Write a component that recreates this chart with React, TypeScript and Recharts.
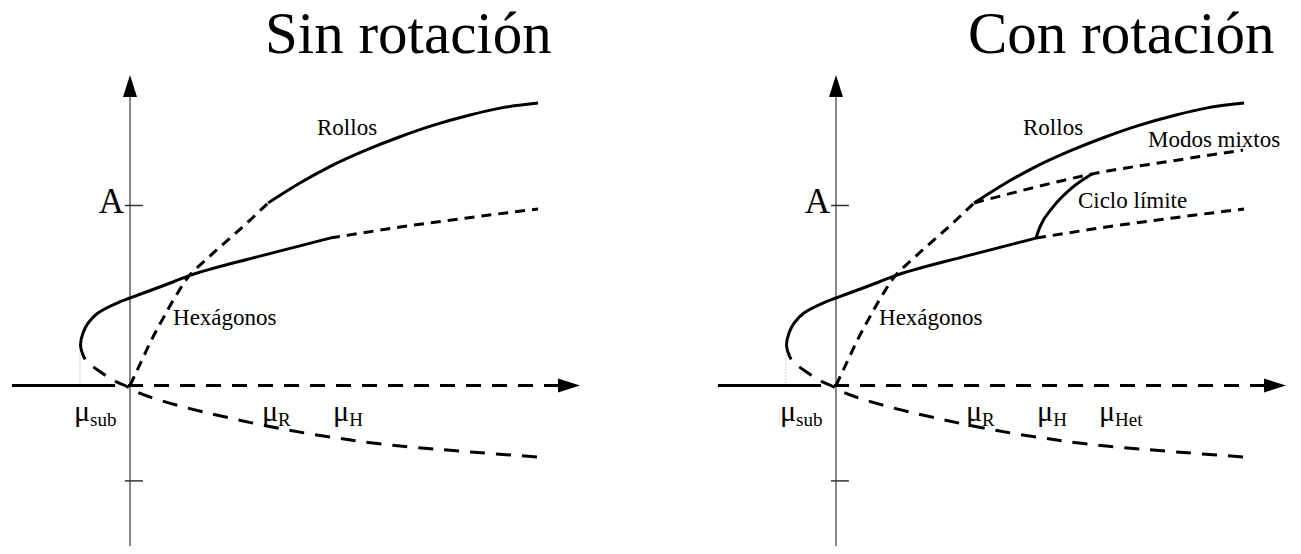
import React from "react";
import { LineChart, Line, XAxis, YAxis, ReferenceLine, ReferenceDot } from "recharts";

// Bifurcation diagrams: amplitude A against control parameter mu,
// without and with rotation. Both panels share one scale (PX pixels per unit).

const SERIF = '"Liberation Serif", "Times New Roman", Times, serif';
const PX = 180;
const ORIGIN_X = 122;
const ORIGIN_Y = 377.5;
const HEIGHT = 538;

type Pt = { mu: number; A: number };
const toPts = (rows: number[][]): Pt[] => rows.map(([mu, A]) => ({ mu, A }));

// conductive state A = 0
const trivialStable = toPts([[-0.656, 0], [-0.083, 0]]);
const trivialUnstable = toPts([[-0.011, 0], [2.378, 0]]);

// hexagons: stable upper part of the fold, unstable beyond mu_H, lower unstable branch
const hexStable = toPts([
  [-0.267, 0.186], [-0.275, 0.225], [-0.261, 0.292], [-0.233, 0.347], [-0.178, 0.403],
  [-0.072, 0.458], [0, 0.486], [0.239, 0.575], [0.322, 0.608], [0.722, 0.719], [1.111, 0.819],
]);
const hexUpperUnstable = toPts([[1.111, 0.819], [1.5, 0.88], [1.872, 0.931], [2.267, 0.981]]);
const hexLower = toPts([
  [2.261, -0.397], [1.889, -0.369], [1.5, -0.336], [1.111, -0.286], [0.761, -0.225],
  [0.556, -0.181], [0.278, -0.114], [0.111, -0.064], [0.039, -0.036], [-0.028, 0],
  [-0.072, 0.019], [-0.172, 0.081], [-0.242, 0.136], [-0.267, 0.186],
]);

// rolls
const rollsUnstable = toPts([
  [0, 0], [0.056, 0.119], [0.122, 0.258], [0.194, 0.392], [0.261, 0.508], [0.333, 0.614],
  [0.444, 0.719], [0.556, 0.819], [0.667, 0.919], [0.767, 1.014],
]);
const rollsStable = toPts([
  [0.767, 1.014], [0.944, 1.125], [1.094, 1.208], [1.317, 1.31], [1.5, 1.382],
  [1.683, 1.445], [1.889, 1.503], [2.056, 1.541], [2.267, 1.569],
]);

// rotating case only
const mixedModes = toPts([[0.767, 1.014], [1.1, 1.1], [1.422, 1.175], [1.85, 1.245], [2.261, 1.308]]);
const limitCycle = toPts([[1.111, 0.819], [1.133, 0.881], [1.206, 0.992], [1.317, 1.103], [1.422, 1.175]]);

const aTicks = [1, -0.53];
const fold = { mu: -0.278, A: 0.225 };
const AXIS_TOP = 1.603;
const ARROW_TIP_A = 1.725;
const ARROW_TIP_MU = 2.5;

const muTicksSin = [
  { mu: -0.311, sub: "sub" },
  { mu: 0.733, sub: "R" },
  { mu: 1.128, sub: "H" },
];
const muTicksCon = [
  { mu: -0.311, sub: "sub" },
  { mu: 0.722, sub: "R" },
  { mu: 1.117, sub: "H" },
  { mu: 1.461, sub: "Het" },
];

const textShape = (text: string, size: number, anchor: "start" | "end" = "start") => (p: any) => (
  <text x={p.cx} y={p.cy} textAnchor={anchor} fill="#000" style={{ fontFamily: SERIF, fontSize: size }}>
    {text}
  </text>
);

const muShape = (sub: string) => (p: any) => (
  <text x={p.cx} y={p.cy} fill="#000" style={{ fontFamily: SERIF }}>
    <tspan style={{ fontSize: 30 }}>μ</tspan>
    <tspan style={{ fontSize: 19 }} dy={5}>
      {sub}
    </tspan>
  </text>
);

const arrowUp = (p: any) => (
  <polygon points={`${p.cx},${p.cy} ${p.cx - 7},${p.cy + 22} ${p.cx + 7},${p.cy + 22}`} fill="#000" />
);
const arrowRight = (p: any) => (
  <polygon points={`${p.cx},${p.cy} ${p.cx - 22},${p.cy - 7} ${p.cx - 22},${p.cy + 7}`} fill="#000" />
);

function curve(key: string, data: Pt[], dash?: string, type: any = "monotoneY") {
  return (
    <Line
      key={key}
      data={data}
      dataKey="A"
      type={type}
      stroke="#000"
      strokeWidth={3}
      strokeDasharray={dash}
      dot={false}
      activeDot={false}
      isAnimationActive={false}
    />
  );
}

function Panel({
  width,
  title,
  titleLeft,
  ticks,
  rotation,
}: {
  width: number;
  title: string;
  titleLeft: number;
  ticks: { mu: number; sub: string }[];
  rotation: boolean;
}) {
  const xDomain = [-ORIGIN_X / PX, (width - ORIGIN_X) / PX];
  const yDomain = [-(HEIGHT - ORIGIN_Y) / PX, ORIGIN_Y / PX];
  const SHORT = "10 7";
  const LONG = "15 11";
  return (
    <div style={{ position: "relative", width, height: HEIGHT }}>
      <div
        style={{
          position: "absolute",
          left: titleLeft,
          top: -4.4,
          fontFamily: SERIF,
          fontSize: 59,
          lineHeight: "59px",
          whiteSpace: "nowrap",
          color: "#000",
        }}
      >
        {title}
      </div>
      <LineChart width={width} height={HEIGHT} margin={{ top: 0, right: 0, bottom: 0, left: 0 }}>
        <XAxis type="number" dataKey="mu" domain={xDomain} hide allowDataOverflow />
        <YAxis type="number" dataKey="A" domain={yDomain} hide allowDataOverflow />

        <ReferenceLine segment={[{ x: 0, y: yDomain[0] }, { x: 0, y: AXIS_TOP }]} stroke="#888" strokeWidth={2} />
        {aTicks.map((a) => (
          <ReferenceLine key={a} segment={[{ x: -0.028, y: a }, { x: 0.072, y: a }]} stroke="#333" strokeWidth={1.5} />
        ))}
        <ReferenceLine
          segment={[{ x: fold.mu, y: 0 }, { x: fold.mu, y: fold.A }]}
          stroke="#999"
          strokeWidth={1}
          strokeDasharray="1 2"
        />

        {curve("trivS", trivialStable, undefined, "linear")}
        {curve("trivU", trivialUnstable, LONG, "linear")}
        {curve("hexS", hexStable)}
        {curve("hexL", hexLower, LONG)}
        {curve("hexU", hexUpperUnstable, SHORT, "monotoneX")}
        {curve("rollU", rollsUnstable, SHORT)}
        {curve("rollS", rollsStable, undefined, "monotoneX")}
        {rotation && curve("mixed", mixedModes, SHORT, "monotoneX")}
        {rotation && curve("cycle", limitCycle, undefined, "monotoneX")}

        <ReferenceDot x={0} y={ARROW_TIP_A} shape={arrowUp} />
        <ReferenceDot x={ARROW_TIP_MU} y={0} shape={arrowRight} />

        <ReferenceDot x={-0.033} y={0.958} shape={textShape("A", 35, "end")} />
        <ReferenceDot x={1.039} y={1.392} shape={textShape("Rollos", 23)} />
        <ReferenceDot x={0.239} y={0.336} shape={textShape("Hexágonos", 23)} />
        {rotation && <ReferenceDot x={1.733} y={1.325} shape={textShape("Modos mixtos", 23)} />}
        {rotation && <ReferenceDot x={1.344} y={0.986} shape={textShape("Ciclo límite", 23)} />}
        {ticks.map((t) => (
          <ReferenceDot key={t.sub} x={t.mu} y={-0.197} shape={muShape(t.sub)} />
        ))}
      </LineChart>
    </div>
  );
}

export default function App() {
  return (
    <div style={{ display: "flex", width: 1285, height: HEIGHT, background: "#fff" }}>
      <Panel width={706} title="Sin rotación" titleLeft={257} ticks={muTicksSin} rotation={false} />
      <Panel width={579} title="Con rotación" titleLeft={254} ticks={muTicksCon} rotation />
    </div>
  );
}
